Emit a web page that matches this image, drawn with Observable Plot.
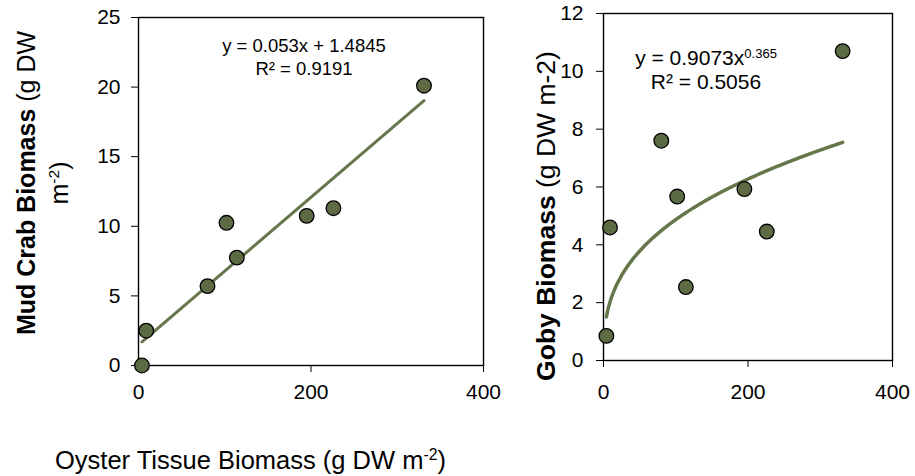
<!DOCTYPE html>
<html>
<head>
<meta charset="utf-8">
<script src="https://cdn.jsdelivr.net/npm/d3@7"></script>
<script src="https://cdn.jsdelivr.net/npm/@observablehq/plot@0.6"></script>
<style>
  html, body { margin: 0; padding: 0; background: #fff; }
  #wrap { position: relative; width: 915px; height: 476px; overflow: hidden; font-family: "Liberation Sans", Arial, sans-serif; color: #000; }
  #wrap svg { position: absolute; top: 0; }
  .lbl { position: absolute; white-space: nowrap; }
  .rot { transform: translate(-50%, -50%) rotate(-90deg); text-align: center; }
  sup { font-size: 0.62em; vertical-align: 0.55em; line-height: 0; }
</style>
</head>
<body>
<div id="wrap"></div>
<script>
// ---- data ----
const oyster  = [4, 9, 80, 102, 114, 195, 226, 331];           // Oyster tissue biomass (g DW m-2)
const mudCrab = [0, 2.5, 5.7, 10.25, 7.75, 10.75, 11.3, 20.1]; // Mud crab biomass
const goby    = [0.85, 4.6, 7.6, 5.67, 2.54, 5.93, 4.46, 10.7]; // Goby biomass
const xTicks = [0, 200, 400];
const crabTicks = [0, 5, 10, 15, 20, 25];
const gobyTicks = [0, 2, 4, 6, 8, 10, 12];
// trend-line coefficients shown on the chart
const crabSlope = 0.053, crabIntercept = 1.4845;
const gobyCoef = 0.9073, gobyExp = 0.365;

const fill = "#5d6b44", lineColor = "#65774a";
const crabPts = oyster.map((x, i) => ({x, y: mudCrab[i]}));
const gobyPts = oyster.map((x, i) => ({x, y: goby[i]}));
const xmin = d3.min(oyster), xmax = d3.max(oyster);
const crabTrend = [xmin, xmax].map(x => ({x, y: crabSlope * x + crabIntercept}));
const gobyTrend = d3.range(0, 201).map(i => xmin + (xmax - xmin) * i / 200)
  .map(x => ({x, y: gobyCoef * Math.pow(x, gobyExp)}));

const common = {
  style: {background: "transparent", fontFamily: '"Liberation Sans", Arial, sans-serif', fontSize: "21px", color: "#000", overflow: "visible"}
};

const left = Plot.plot({
  ...common,
  width: 500, height: 410,
  marginLeft: 138, marginRight: 17, marginTop: 17, marginBottom: 45,
  x: {domain: [0, 400], ticks: xTicks, tickSize: 7, tickPadding: 12, label: null},
  y: {domain: [0, 25], ticks: crabTicks, tickSize: 7, tickPadding: 11, label: null},
  marks: [
    Plot.frame({stroke: "#000", strokeWidth: 1.4}),
    Plot.line(crabTrend, {x: "x", y: "y", stroke: lineColor, strokeWidth: 3}),
    Plot.dot(crabPts, {x: "x", y: "y", r: 7.3, fill, stroke: "#000", strokeWidth: 1.3})
  ]
});
left.style.left = "0px";

const right = Plot.plot({
  ...common,
  width: 455, height: 410,
  marginLeft: 143, marginRight: 23, marginTop: 13, marginBottom: 50,
  x: {domain: [0, 400], ticks: xTicks, tickSize: 7, tickPadding: 17, label: null},
  y: {domain: [0, 12], ticks: gobyTicks, tickSize: 7, tickPadding: 13, label: null},
  marks: [
    Plot.frame({stroke: "#000", strokeWidth: 1.4}),
    Plot.line(gobyTrend, {x: "x", y: "y", stroke: lineColor, strokeWidth: 3.5, curve: "linear"}),
    Plot.dot(gobyPts, {x: "x", y: "y", r: 7.3, fill, stroke: "#000", strokeWidth: 1.3})
  ]
});
right.style.left = "460px";

const wrap = document.getElementById("wrap");
wrap.appendChild(left);
wrap.appendChild(right);

function addLabel(html, css, cls) {
  const d = document.createElement("div");
  d.className = "lbl" + (cls ? " " + cls : "");
  d.innerHTML = html;
  Object.assign(d.style, css);
  wrap.appendChild(d);
  return d;
}
// y-axis titles
addLabel('<b>Mud Crab Biomass</b> (g DW<br>m<sup>-2</sup>)',
  {left: "43px", top: "183px", fontSize: "25px", lineHeight: "33px"}, "rot");
addLabel('<b>Goby Biomass</b> (g DW m-2)',
  {left: "546px", top: "216px", fontSize: "26.5px", lineHeight: "28px"}, "rot");
// x-axis title
addLabel('Oyster Tissue Biomass (g DW m<sup>-2</sup>)',
  {left: "55px", top: "445px", fontSize: "25.5px", lineHeight: "30px"});
// trend equations
addLabel('y = 0.053x + 1.4845<br>R² = 0.9191',
  {left: "304px", top: "35px", fontSize: "18.5px", lineHeight: "22.6px", textAlign: "center", transform: "translateX(-50%)"});
addLabel('y = 0.9073x<sup>0.365</sup><br>R² = 0.5056',
  {left: "706px", top: "46px", fontSize: "21px", lineHeight: "23.5px", textAlign: "center", transform: "translateX(-50%)"});
</script>
</body>
</html>
